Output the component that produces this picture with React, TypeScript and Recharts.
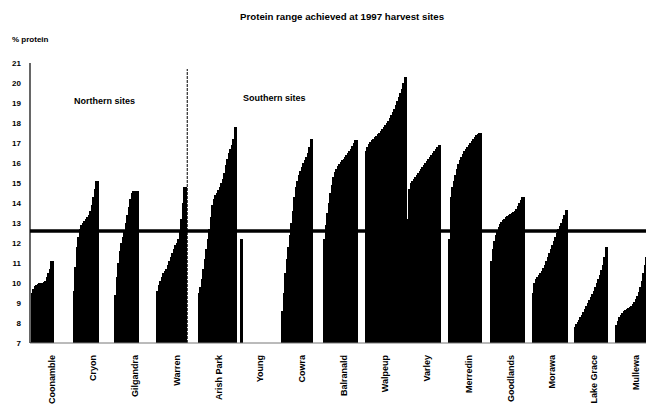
import React from "react"
import { BarChart, Bar, XAxis, YAxis, ReferenceLine } from "recharts"

// sites along the x axis, northern first then southern
const sites = [
  "Coonamble", "Cryon", "Gilgandra", "Warren", "Arish Park", "Young", "Cowra",
  "Balranald", "Walpeup", "Varley", "Merredin", "Goodlands", "Morawa", "Lake Grace", "Mullewa",
]

// % protein of each sample, sorted low to high within a site
const coonamble = [9.5, 9.7, 9.85, 9.9, 9.95, 10.0, 10.0, 10.0, 10.05, 10.1, 10.3, 10.5, 10.7, 11.1]
const cryon = [9.6, 10.8, 11.8, 12.3, 12.7, 12.9, 13.0, 13.1, 13.2, 13.3, 13.4, 13.6, 13.9, 14.3, 14.7, 15.1]
const gilgandra = [9.4, 10.3, 11.0, 11.6, 12.0, 12.3, 12.6, 13.0, 13.4, 13.8, 14.2, 14.5, 14.6, 14.6, 14.6]
const warren = [9.6, 9.9, 10.1, 10.3, 10.5, 10.6, 10.7, 10.9, 11.1, 11.3, 11.5, 11.7, 11.9, 12.0, 12.2, 12.6, 13.2, 14.0, 14.8]
const arishPark = [9.5, 9.8, 10.2, 10.7, 11.2, 11.7, 12.2, 12.7, 13.3, 13.9, 14.2, 14.4, 14.5, 14.65, 14.8, 15.0, 15.2, 15.5, 15.9, 16.2, 16.5, 16.7, 16.9, 17.2, 17.8]
const young = [12.2]
const cowra = [8.6, 9.5, 10.5, 11.2, 11.8, 12.4, 13.0, 13.6, 14.3, 14.8, 15.1, 15.4, 15.6, 15.8, 16.0, 16.15, 16.3, 16.5, 16.8, 17.2]
const balranald = [12.2, 12.9, 13.5, 14.0, 14.5, 14.9, 15.3, 15.55, 15.7, 15.85, 15.95, 16.05, 16.15, 16.2, 16.3, 16.4, 16.5, 16.6, 16.7, 16.85, 17.0, 17.15]
const walpeup = [16.6, 16.8, 16.95, 17.05, 17.15, 17.2, 17.3, 17.35, 17.45, 17.5, 17.6, 17.7, 17.8, 17.9, 18.0, 18.1, 18.25, 18.4, 18.55, 18.7, 18.9, 19.1, 19.3, 19.5, 19.7, 20.0, 20.3]
const varley = [13.2, 14.7, 15.0, 15.1, 15.2, 15.3, 15.4, 15.5, 15.6, 15.7, 15.8, 15.9, 16.0, 16.1, 16.2, 16.3, 16.4, 16.5, 16.6, 16.7, 16.8, 16.9]
const merredin = [12.2, 14.3, 14.8, 15.1, 15.4, 15.7, 15.95, 16.15, 16.3, 16.45, 16.6, 16.7, 16.8, 16.9, 17.0, 17.1, 17.2, 17.3, 17.4, 17.45, 17.5]
const goodlands = [11.1, 11.7, 12.1, 12.4, 12.6, 12.8, 12.95, 13.05, 13.15, 13.2, 13.3, 13.35, 13.4, 13.45, 13.5, 13.55, 13.6, 13.7, 13.85, 14.0, 14.15, 14.3]
const morawa = [9.5, 10.0, 10.2, 10.3, 10.4, 10.5, 10.6, 10.75, 10.9, 11.1, 11.3, 11.5, 11.7, 11.9, 12.1, 12.3, 12.5, 12.7, 12.85, 13.0, 13.2, 13.4, 13.65]
const lakeGrace = [7.8, 7.95, 8.05, 8.15, 8.3, 8.4, 8.55, 8.7, 8.85, 9.0, 9.15, 9.3, 9.45, 9.6, 9.8, 10.0, 10.2, 10.4, 10.65, 10.9, 11.3, 11.8]
const mullewa = [7.9, 8.1, 8.3, 8.4, 8.5, 8.6, 8.65, 8.7, 8.75, 8.8, 8.85, 8.95, 9.05, 9.2, 9.35, 9.55, 9.8, 10.1, 10.5, 10.9, 11.3]

const siteValues = [
  coonamble, cryon, gilgandra, warren, arishPark, young, cowra,
  balranald, walpeup, varley, merredin, goodlands, morawa, lakeGrace, mullewa,
]

const yTicks = [7, 8, 9, 10, 11, 12, 13, 14, 15, 16, 17, 18, 19, 20, 21]
const target = 12.6

// every site gets the same number of slots; one empty slot before its samples
const SLOTS = 28
const data: { slot: number; protein: number | null }[] = []
siteValues.forEach((vals, i) => {
  for (let j = 0; j < SLOTS; j++) {
    const v = j >= 1 && j - 1 < vals.length ? vals[j - 1] : null
    data.push({ slot: i * SLOTS + j, protein: v })
  }
})
const divider = 3 * SLOTS + 21

const font = "'Liberation Sans', Arial, sans-serif"

// bars are ~1.5px wide; snap to whole pixels and overlap so each site reads as one solid block
const SolidBar = (props: any) => {
  const { x, y, width, height } = props
  if (!height || height <= 0) return null
  const left = Math.floor(x)
  const right = Math.ceil(x + Math.max(width, 1.5)) + 1
  return <rect x={left} y={y} width={right - left} height={height} fill="#000" shapeRendering="crispEdges" />
}

const SiteTick = (props: any) => {
  const { x, y, payload } = props
  const idx = payload.value as number
  if (idx % SLOTS !== SLOTS / 2) return null
  const name = sites[Math.floor(idx / SLOTS)]
  return (
    <text
      x={x}
      y={y}
      transform={`rotate(-90, ${x}, ${y})`}
      textAnchor="end"
      dominantBaseline="central"
      fontSize={9}
      fontWeight="bold"
      fontFamily={font}
      fill="#000"
    >
      {name}
    </text>
  )
}

const txt: React.CSSProperties = {
  position: "absolute",
  fontFamily: font,
  fontWeight: "bold",
  color: "#000",
  whiteSpace: "nowrap",
  lineHeight: 1,
}

export default function App() {
  return (
    <div style={{ position: "relative", margin: -8, width: 654, height: 419, overflow: "hidden", background: "#fff" }}>
      <div style={{ ...txt, left: 240, top: 12, fontSize: 9.7 }}>Protein range achieved at 1997 harvest sites</div>
      <div style={{ ...txt, left: 12, top: 36, fontSize: 8 }}>% protein</div>
      <div style={{ ...txt, left: 74, top: 97, fontSize: 9 }}>Northern sites</div>
      <div style={{ ...txt, left: 243, top: 94, fontSize: 9 }}>Southern sites</div>
      <BarChart
        width={664}
        height={419}
        data={data}
        margin={{ top: 63, right: 8, bottom: 0, left: 0 }}
        barCategoryGap={0}
        barGap={0}
      >
        <XAxis
          dataKey="slot"
          interval={0}
          height={76}
          tick={<SiteTick />}
          tickLine={false}
          tickSize={0}
          tickMargin={12}
          axisLine={{ stroke: "#777", strokeWidth: 1 }}
        />
        <YAxis
          width={30}
          domain={[7, 21]}
          ticks={yTicks}
          interval={0}
          tickLine={false}
          tickSize={0}
          tickMargin={9}
          axisLine={{ stroke: "#000", strokeWidth: 1.2 }}
          tick={{ fontSize: 8, fontWeight: "bold", fontFamily: font, fill: "#000" }}
        />
        <Bar dataKey="protein" fill="#000" shape={<SolidBar />} isAnimationActive={false} />
        <ReferenceLine y={target} stroke="#000" strokeWidth={3.5} />
        <ReferenceLine
          segment={[{ x: divider, y: 7 }, { x: divider, y: 20.7 }]}
          stroke="#000"
          strokeWidth={1}
          strokeDasharray="3 1"
        />
      </BarChart>
    </div>
  )
}
